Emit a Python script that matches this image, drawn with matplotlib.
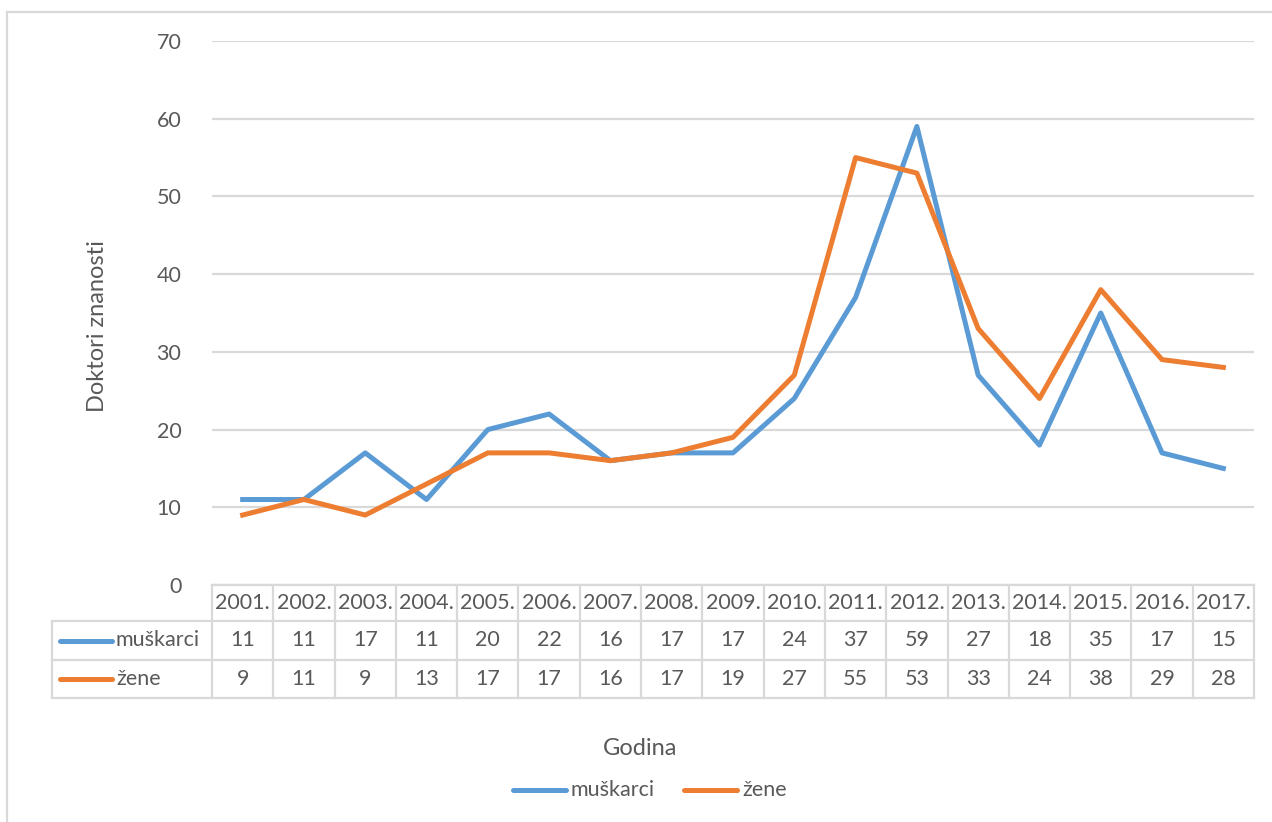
import matplotlib
matplotlib.use("Agg")
import matplotlib.pyplot as plt
from matplotlib.transforms import blended_transform_factory

years = ["2001.", "2002.", "2003.", "2004.", "2005.", "2006.", "2007.", "2008.", "2009.",
         "2010.", "2011.", "2012.", "2013.", "2014.", "2015.", "2016.", "2017."]
muskarci = [11, 11, 17, 11, 20, 22, 16, 17, 17, 24, 37, 59, 27, 18, 35, 17, 15]
zene = [9, 11, 9, 13, 17, 17, 16, 17, 19, 27, 55, 53, 33, 24, 38, 29, 28]
series_names = ["muškarci", "žene"]
y_ticks = [0, 10, 20, 30, 40, 50, 60, 70]

BLUE = "#5B9BD5"
ORANGE = "#ED7D31"
GRID = "#D9D9D9"
TXT = "#595959"
FONT = "Lato"
FS = 15.5

W, H = 1272, 822
fig = plt.figure(figsize=(W / 100, H / 100), dpi=100)
fig.patch.set_facecolor("white")

def fx(x):
    return x / W

def fy(y):
    return 1 - y / H

# plot area in pixels
L, R, T, B = 212, 1254, 41, 585
ax = fig.add_axes([fx(L), fy(B), fx(R - L), (B - T) / H])
n = len(years)
ax.set_xlim(-0.5, n - 0.5)
ax.set_ylim(0, 70)
for s in ax.spines.values():
    s.set_visible(False)
ax.set_xticks([])
ax.set_yticks(y_ticks)
ax.tick_params(axis="y", length=0, pad=22, labelsize=FS, labelcolor=TXT)
for lab in ax.get_yticklabels():
    lab.set_fontfamily(FONT)
ax.grid(axis="y", color=GRID, lw=1.6)
ax.set_axisbelow(True)

xs = list(range(n))
ax.plot(xs, muskarci, color=BLUE, lw=3.6, solid_joinstyle="round", clip_on=False, zorder=3)
ax.plot(xs, zene, color=ORANGE, lw=3.6, solid_joinstyle="round", clip_on=False, zorder=3)

# data table
bt = blended_transform_factory(ax.transData, fig.transFigure)
rows = [585, 621, 660, 698]
line_kw = dict(color=GRID, lw=1.6, clip_on=False)
ax.plot([-0.5, n - 0.5], [fy(rows[0])] * 2, transform=bt, **line_kw)
for ry in rows[1:]:
    fig.add_artist(plt.Line2D([fx(52), fx(R)], [fy(ry)] * 2, **line_kw))
for i in range(n + 1):
    ax.plot([i - 0.5, i - 0.5], [fy(rows[0]), fy(rows[3])], transform=bt, **line_kw)
fig.add_artist(plt.Line2D([fx(52), fx(52)], [fy(rows[1]), fy(rows[3])], **line_kw))

for i, yr in enumerate(years):
    ax.text(i, fy((rows[0] + rows[1]) / 2), yr, transform=bt, ha="center", va="center",
            fontsize=FS, color=TXT, fontfamily=FONT)
    ax.text(i, fy((rows[1] + rows[2]) / 2), str(muskarci[i]), transform=bt, ha="center",
            va="center", fontsize=FS, color=TXT, fontfamily=FONT)
    ax.text(i, fy((rows[2] + rows[3]) / 2), str(zene[i]), transform=bt, ha="center",
            va="center", fontsize=FS, color=TXT, fontfamily=FONT)

for k, (name, col) in enumerate(zip(series_names, [BLUE, ORANGE])):
    yc = fy((rows[k + 1] + rows[k + 2]) / 2)
    fig.add_artist(plt.Line2D([fx(60), fx(112)], [yc, yc], color=col, lw=3.6,
                              solid_capstyle="round"))
    fig.text(fx(116), yc, name, ha="left", va="center", fontsize=FS, color=TXT,
             fontfamily=FONT)

# axis titles
fig.text(fx(97), fy(326), "Doktori znanosti", rotation=90, ha="center", va="center",
         fontsize=17, color=TXT, fontfamily=FONT)
fig.text(fx(640), fy(748), "Godina", ha="center", va="center", fontsize=17,
         color=TXT, fontfamily=FONT)

# bottom legend
ly = fy(790)
for name, col, x0 in zip(series_names, [BLUE, ORANGE], [513, 684]):
    fig.add_artist(plt.Line2D([fx(x0), fx(x0 + 53)], [ly, ly], color=col, lw=3.6,
                              solid_capstyle="round"))
    fig.text(fx(x0 + 58), ly, name, ha="left", va="center", fontsize=FS, color=TXT,
             fontfamily=FONT)

# chart border (partially visible)
fig.add_artist(plt.Line2D([fx(7), fx(W)], [fy(12), fy(12)], color=GRID, lw=1.6))
fig.add_artist(plt.Line2D([fx(7), fx(7)], [fy(12), 0], color=GRID, lw=1.6))

fig.savefig("out.png", dpi=100, facecolor="white")
